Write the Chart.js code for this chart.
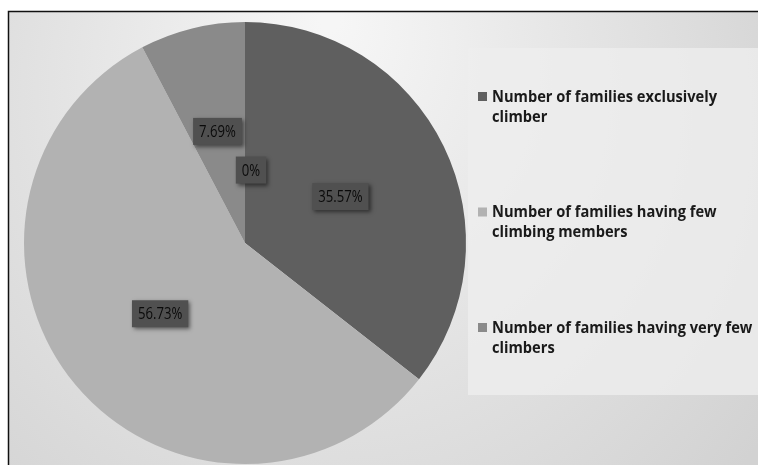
<!DOCTYPE html>
<html>
<head>
<meta charset="utf-8">
<script src="https://cdn.jsdelivr.net/npm/chart.js@4.4.1/dist/chart.umd.min.js"></script>
<style>
    html, body { margin: 0; padding: 0; background: #ffffff; }
    #wrap { width: 758px; height: 465px; position: relative; }
</style>
</head>
<body>
<div id="wrap"><canvas id="pieChart" width="758" height="465"></canvas></div>
<script>
const categories = [
    ['Number of families exclusively', 'climber'],
    ['Number of families having few', 'climbing members'],
    ['Number of families having very few', 'climbers'],
    ['']
];
const shares = [35.57, 56.73, 7.69, 0];
const shareLabels = ['35.57%', '56.73%', '7.69%', '0%'];
const sliceColors = ['#5f5f5f', '#b2b2b2', '#8a8a8a', '#8a8a8a'];
const legendCount = 3;

// draw text squeezed horizontally (narrow, Calibri-like look)
const narrowText = (ctx, text, x, y, squeeze) => {
    ctx.save();
    ctx.translate(x, y);
    ctx.scale(squeeze, 1);
    ctx.fillText(text, 0, 0);
    ctx.restore();
};

// page frame + soft gradient backdrop
const backdrop = {
    id: 'backdrop',
    beforeDraw(chart) {
        const ctx = chart.ctx;
        ctx.save();
        ctx.fillStyle = '#ffffff';
        ctx.fillRect(0, 0, chart.width, chart.height);
        const g = ctx.createRadialGradient(330, 20, 10, 330, 150, 520);
        g.addColorStop(0, '#f6f6f6');
        g.addColorStop(0.5, '#e4e4e4');
        g.addColorStop(1, '#d2d2d2');
        ctx.fillStyle = g;
        ctx.fillRect(9, 12, chart.width, chart.height);
        ctx.strokeStyle = '#111111';
        ctx.lineWidth = 1.5;
        ctx.strokeRect(8.5, 11.5, chart.width + 10, chart.height + 10);
        // legend panel
        ctx.fillStyle = 'rgba(238,238,238,0.8)';
        ctx.fillRect(468, 48, 300, 347);
        ctx.restore();
    }
};

// value boxes on the slices
const sliceLabels = {
    id: 'sliceLabels',
    afterDatasetsDraw(chart) {
        const ctx = chart.ctx;
        const arcs = chart.getDatasetMeta(0).data;
        const frac = [0.48, 0.5, 0.52, 0.33];
        const nudge = [[0, 0], [0, 0], [0, 0], [6, 0]];
        const squeeze = 0.82;
        ctx.save();
        ctx.font = '16px "Open Sans", sans-serif';
        ctx.textAlign = 'center';
        ctx.textBaseline = 'middle';
        arcs.forEach((arc, i) => {
            const mid = (arc.startAngle + arc.endAngle) / 2;
            const r = arc.outerRadius * frac[i];
            const x = arc.x + Math.cos(mid) * r + nudge[i][0];
            const y = arc.y + Math.sin(mid) * r + nudge[i][1];
            const w = ctx.measureText(shareLabels[i]).width * squeeze + 12;
            const h = 27;
            ctx.shadowColor = 'rgba(0,0,0,0.5)';
            ctx.shadowBlur = 4;
            ctx.shadowOffsetX = 2;
            ctx.shadowOffsetY = 2;
            ctx.fillStyle = '#505050';
            ctx.fillRect(x - w / 2, y - h / 2, w, h);
            ctx.shadowColor = 'transparent';
            ctx.fillStyle = '#0a0a0a';
            narrowText(ctx, shareLabels[i], x, y + 1, squeeze);
        });
        ctx.restore();
    }
};

// legend drawn at the right, two lines per entry
const sideLegend = {
    id: 'sideLegend',
    afterDraw(chart) {
        const ctx = chart.ctx;
        ctx.save();
        ctx.font = 'bold 16px "Open Sans", sans-serif';
        ctx.textBaseline = 'middle';
        const squeeze = 225 / ctx.measureText(categories[0][0]).width;
        for (let i = 0; i < legendCount; i++) {
            const top = 97 + i * 115.5;
            ctx.fillStyle = sliceColors[i];
            ctx.fillRect(478, top - 5, 9, 9);
            ctx.fillStyle = '#1a1a1a';
            categories[i].forEach((line, j) => {
                narrowText(ctx, line, 492, top + j * 20, squeeze);
            });
        }
        ctx.restore();
    }
};

new Chart(document.getElementById('pieChart').getContext('2d'), {
    type: 'pie',
    data: {
        labels: categories.map(c => c.join(' ')),
        datasets: [{
            data: shares,
            backgroundColor: sliceColors,
            borderWidth: 0
        }]
    },
    options: {
        responsive: false,
        animation: false,
        layout: {
            padding: { left: 24, right: 292, top: 22, bottom: 1 }
        },
        plugins: {
            legend: { display: false },
            tooltip: { enabled: false }
        }
    },
    plugins: [backdrop, sliceLabels, sideLegend]
});
</script>
</body>
</html>
